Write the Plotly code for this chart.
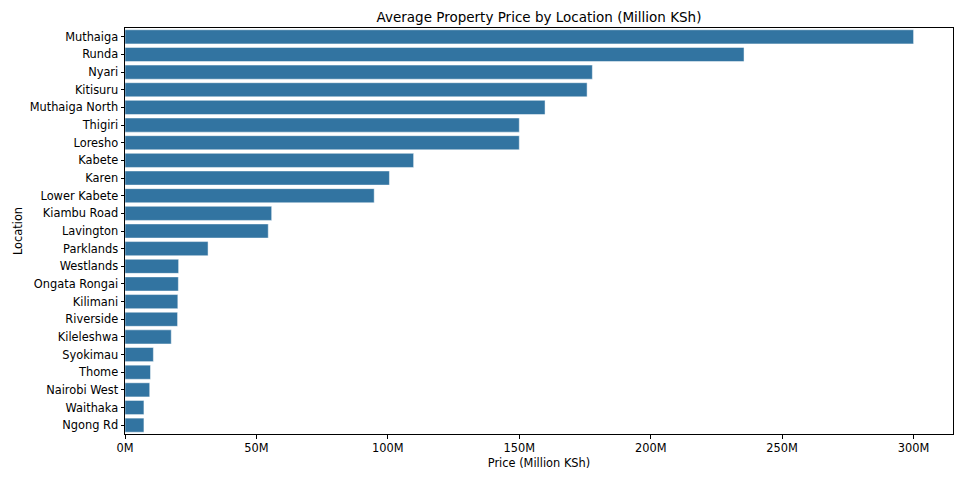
"""
Average property price by location - horizontal bar chart
"""

import plotly.graph_objects as go

# Data (millions of KSh)
locations = ['Muthaiga', 'Runda', 'Nyari', 'Kitisuru', 'Muthaiga North', 'Thigiri',
             'Loresho', 'Kabete', 'Karen', 'Lower Kabete', 'Kiambu Road', 'Lavington',
             'Parklands', 'Westlands', 'Ongata Rongai', 'Kilimani', 'Riverside',
             'Kileleshwa', 'Syokimau', 'Thome', 'Nairobi West', 'Waithaka', 'Ngong Rd']
prices = [300, 235.5, 177.8, 175.8, 159.8, 150, 150, 109.8, 100.6, 94.8, 55.8, 54.5,
          31.6, 20.4, 20.3, 20.1, 20.0, 17.6, 10.8, 9.7, 9.4, 7.2, 7.2]
x_ticks = [0, 50, 100, 150, 200, 250, 300]
x_tick_labels = ['0M', '50M', '100M', '150M', '200M', '250M', '300M']

bar_color = '#3274a1'
font_family = 'DejaVu Sans'

# page body adds an 8px offset, so margins are shifted to compensate
W, H = 971, 485
ML, MR, MT, MB = 117, 26, 20, 59

fig = go.Figure()

fig.add_trace(
    go.Bar(
        x=prices,
        y=locations,
        orientation='h',
        marker=dict(color=bar_color, line=dict(color='rgba(255,255,255,0.6)', width=0.8)),
        hovertemplate='%{y}: %{x}M<extra></extra>',
    )
)

fig.update_layout(
    width=W,
    height=H,
    template='plotly_white',
    paper_bgcolor='white',
    plot_bgcolor='white',
    showlegend=False,
    bargap=0.2,
    margin=dict(l=ML, r=MR, t=MT, b=MB, autoexpand=False),
    font=dict(family=font_family, size=11.4, color='black'),
    title=dict(
        text='Average Property Price by Location (Million KSh)',
        x=0.5 * (ML + W - MR) / W, xanchor='center',
        y=1 - 9.5 / H, yanchor='middle',
        font=dict(size=13.5, color='black'),
    ),
)

# Matplotlib-like box and ticks
fig.update_xaxes(
    range=[0, 315],
    tickvals=x_ticks,
    ticktext=x_tick_labels,
    automargin=False,
    showgrid=False,
    zeroline=False,
    showline=True, linecolor='black', linewidth=1, mirror=True,
    ticks='outside', ticklen=3.5, tickcolor='black',
    title=dict(text='Price (Million KSh)', standoff=4, font=dict(size=11.4)),
)
fig.update_yaxes(
    range=[22.5, -0.5],
    automargin=False,
    showgrid=False,
    zeroline=False,
    showline=True, linecolor='black', linewidth=1, mirror=True,
    ticks='outside', ticklen=3.5, tickcolor='black',
    title=dict(text='Location', standoff=4, font=dict(size=11.4)),
)

fig.write_html("out.html")
